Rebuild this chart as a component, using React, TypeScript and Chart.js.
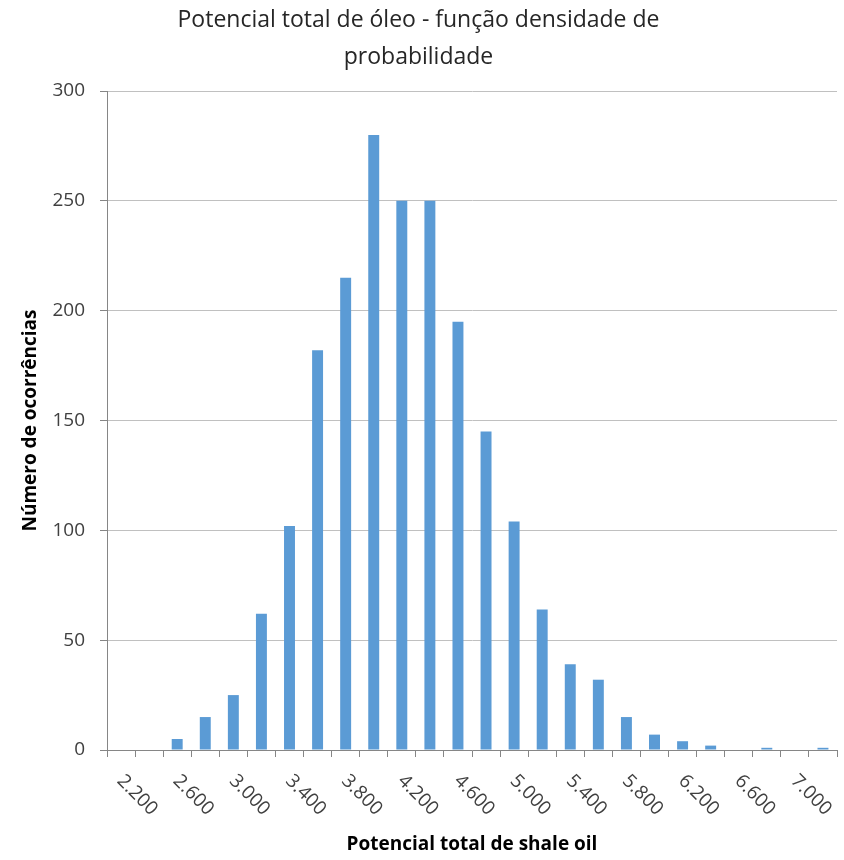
import React, { useEffect, useRef } from 'react';
import { Chart, registerables } from 'chart.js';

Chart.register(...registerables);

const categories = [
  '2.200', '2.400', '2.600', '2.800', '3.000', '3.200', '3.400', '3.600', '3.800',
  '4.000', '4.200', '4.400', '4.600', '4.800', '5.000', '5.200', '5.400', '5.600',
  '5.800', '6.000', '6.200', '6.400', '6.600', '6.800', '7.000', '7.200',
];
const occurrences = [
  0, 0, 5, 15, 25, 62, 102, 182, 215, 280, 250, 250, 195, 145, 104, 64, 39, 32,
  15, 7, 4, 2, 0, 1, 0, 1,
];
const yMin = 0;
const yMax = 300;
const yStep = 50;
const chartTitle = ['Potencial total de óleo - função densidade de', 'probabilidade'];
const xTitle = 'Potencial total de shale oil';
const yTitle = 'Número de ocorrências';

const FONT = '"Open Sans", "Noto Sans", sans-serif';

const rotatedXLabels = {
  id: 'rotatedXLabels',
  afterDraw(chart: any) {
    const xs = chart.scales.x;
    const ctx = chart.ctx;
    ctx.save();
    ctx.font = `19px ${FONT}`;
    ctx.fillStyle = '#404040';
    ctx.textAlign = 'left';
    ctx.textBaseline = 'middle';
    categories.forEach((lab, i) => {
      if (i % 2 !== 0) return;
      const x = xs.getPixelForValue(i);
      ctx.save();
      ctx.translate(x - 1, xs.top + 28);
      ctx.rotate(Math.PI / 4);
      ctx.fillText(lab, 0, 0);
      ctx.restore();
    });
    ctx.restore();
  },
};

export default function App() {
  const ref = useRef<HTMLCanvasElement | null>(null);

  useEffect(() => {
    if (!ref.current) return;
    const chart = new Chart(ref.current, {
      type: 'bar',
      data: {
        labels: categories,
        datasets: [
          {
            data: occurrences,
            backgroundColor: '#5b9bd5',
            borderWidth: 0,
            barPercentage: 0.39,
            categoryPercentage: 1.0,
          },
        ],
      },
      options: {
        responsive: false,
        animation: false,
        layout: { padding: { left: 0, right: 7, top: 0, bottom: 0 } },
        plugins: {
          legend: { display: false },
          tooltip: { enabled: false },
          title: {
            display: true,
            text: chartTitle,
            color: '#262626',
            font: { family: FONT, size: 23, weight: 'normal', lineHeight: 37 / 23 },
            padding: { top: 2, bottom: 15 },
          },
        },
        scales: {
          x: {
            type: 'category',
            offset: true,
            grid: {
              display: true,
              offset: true,
              drawOnChartArea: false,
              drawTicks: true,
              tickLength: 7,
              tickColor: '#868686',
            },
            border: { display: true, color: '#868686', width: 1 },
            ticks: {
              autoSkip: false,
              minRotation: 0,
              maxRotation: 0,
              color: 'rgba(0,0,0,0)',
              font: { family: FONT, size: 17 },
              callback: (_v: any, i: number) => (i % 2 === 0 ? categories[i] : ''),
            },
            title: {
              display: true,
              text: xTitle,
              color: '#000000',
              font: { family: FONT, size: 19, weight: 'bold' },
              padding: { top: 0, bottom: 4 },
            },
            afterFit: (s: any) => {
              s.height = 110;
            },
          },
          y: {
            min: yMin,
            max: yMax,
            ticks: {
              stepSize: yStep,
              color: '#404040',
              font: { family: FONT, size: 19 },
              padding: 15,
            },
            grid: {
              color: '#c0c0c0',
              tickLength: 7,
              tickColor: '#868686',
            },
            border: { display: true, color: '#868686', width: 1 },
            title: {
              display: true,
              text: yTitle,
              color: '#000000',
              font: { family: FONT, size: 19, weight: 'bold' },
              padding: { top: 19, bottom: 0 },
            },
            afterFit: (s: any) => {
              s.width = 107;
            },
          },
        },
      } as any,
      plugins: [rotatedXLabels],
    });
    return () => chart.destroy();
  }, []);

  return (
    <div style={{ position: 'absolute', left: 0, top: 0, width: 844, height: 860, background: '#ffffff' }}>
      <canvas ref={ref} width={844} height={860} style={{ width: 844, height: 860, display: 'block' }} />
    </div>
  );
}
